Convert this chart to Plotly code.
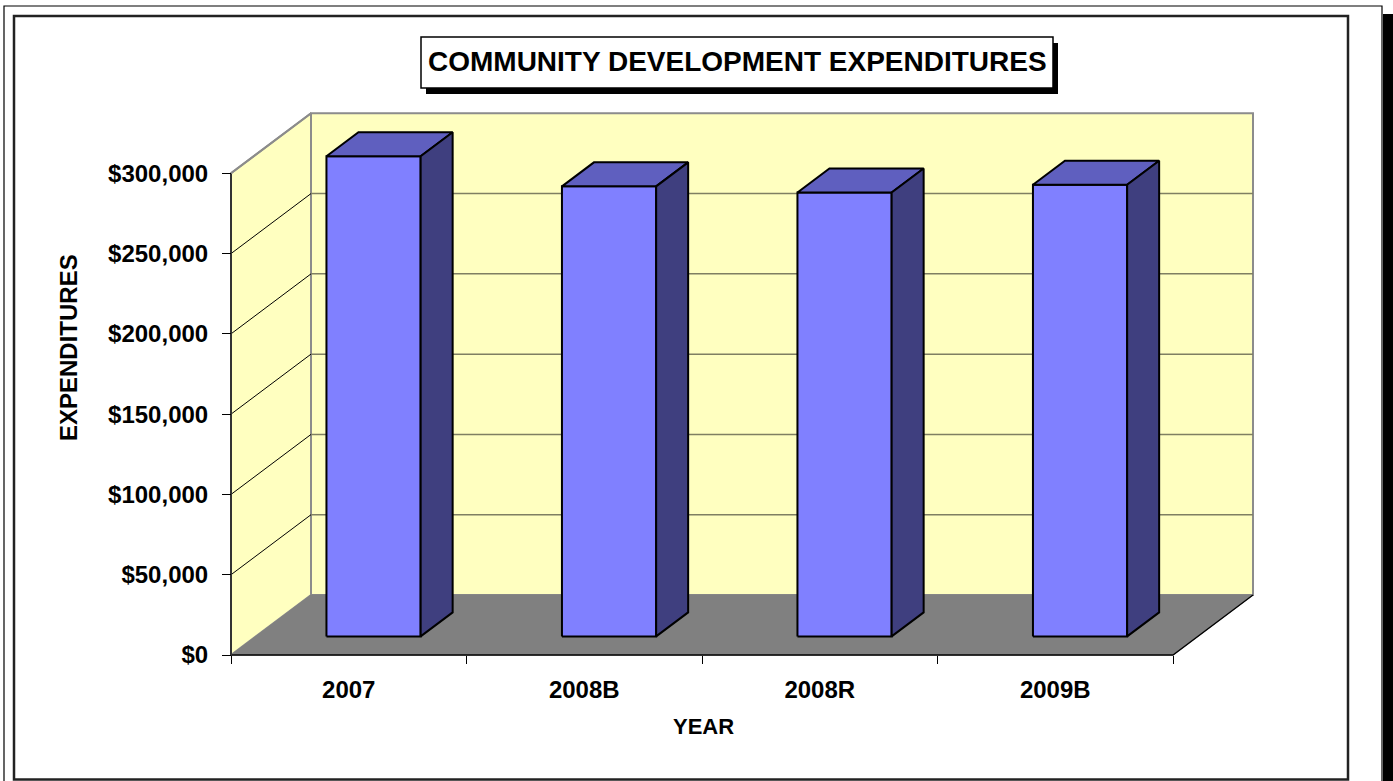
import plotly.graph_objects as go

# ---------------- data ----------------
categories = ["2007", "2008B", "2008R", "2009B"]
expenditures = [299000, 280300, 276500, 281300]
y_tick_values = [0, 50000, 100000, 150000, 200000, 250000, 300000]
y_tick_labels = ["$0", "$50,000", "$100,000", "$150,000", "$200,000", "$250,000", "$300,000"]
title_text = "COMMUNITY DEVELOPMENT EXPENDITURES"
x_title = "YEAR"
y_title = "EXPENDITURES"

# ---------------- geometry / styling ----------------
W, H = 1393, 781
PX_PER_CAT = 235.5
PX_PER_VAL = 481.7 / 300000
X0PX, Y0PX = 231, 655          # pixel of (x=0, y=0) on the front plane
L, R, T, B = 222, 1262, 106, 664   # plot area in pixels
DEPTH_PX_X, DEPTH_PX_Y = 80, 60
DX = DEPTH_PX_X / PX_PER_CAT
DY = DEPTH_PX_Y / PX_PER_VAL
YMAX = y_tick_values[-1]
NCAT = len(categories)
D0, D1 = 0.31, 0.71            # bar depth fraction (front, back)
BW = 0.40                      # bar width in category units

xrange = [(L - X0PX) / PX_PER_CAT, (R - X0PX) / PX_PER_CAT]
yrange = [(Y0PX - B) / PX_PER_VAL, (Y0PX - T) / PX_PER_VAL]


def pxx(px):
    return (px - L) / (R - L)


def pxy(py):
    return (B - py) / (B - T)


WALL = "#FFFFC0"
FLOOR = "#808080"
EDGE = "#8C8C8C"
GRID = "#7F7F62"
FRONT = "#8080FF"
TOP = "#5F5FBF"
SIDE = "#3F3F7F"
FONT = "Liberation Sans, Arial, sans-serif"

fig = go.Figure()


def poly(xs, ys, fill, line_color, line_width):
    fig.add_trace(go.Scatter(
        x=xs + [xs[0]], y=ys + [ys[0]], mode="lines", fill="toself",
        fillcolor=fill, line=dict(color=line_color, width=line_width),
        hoverinfo="skip", showlegend=False))


def seg(xs, ys, color, width):
    fig.add_trace(go.Scatter(
        x=xs, y=ys, mode="lines", line=dict(color=color, width=width),
        hoverinfo="skip", showlegend=False))


# back wall
poly([DX, NCAT + DX, NCAT + DX, DX], [DY, DY, YMAX + DY, YMAX + DY], WALL, EDGE, 2)
# left side wall
poly([0, DX, DX, 0], [0, DY, YMAX + DY, YMAX], WALL, EDGE, 2)
# floor
poly([0, NCAT, NCAT + DX, DX], [0, 0, DY, DY], FLOOR, FLOOR, 1)

# gridlines on back wall and side wall
for v in y_tick_values[1:-1]:
    seg([DX, NCAT + DX], [v + DY, v + DY], GRID, 1.5)
    seg([0, DX], [v, v + DY], "black", 1)

# floor edges and front axis line
seg([0, NCAT, NCAT + DX], [0, 0, DY], "black", 1.3)
seg([0, 0], [0, YMAX], "#333333", 2)
seg([0, DX], [YMAX, YMAX + DY], EDGE, 2)

# bars: front, top and side faces
centers = [i + 0.5 + D0 * DX for i in range(NCAT)]
ddx = (D1 - D0) * DX
ddy = (D1 - D0) * DY
for c, v in zip(centers, expenditures):
    xl, xr = c - BW / 2, c + BW / 2
    yb, yt = D0 * DY, v + D0 * DY
    poly([xl, xr, xr, xl], [yb, yb, yt, yt], FRONT, "black", 2)
    poly([xl, xr, xr + ddx, xl + ddx], [yt, yt, yt + ddy, yt + ddy], TOP, "black", 2)
    poly([xr, xr + ddx, xr + ddx, xr], [yb, yb + ddy, yt + ddy, yt], SIDE, "black", 2)

# ---------------- frames / title box ----------------
shapes = [
    dict(type="rect", xref="paper", yref="paper", x0=pxx(1383), x1=pxx(1393), y0=pxy(14), y1=pxy(790),
         fillcolor="black", line=dict(width=0), layer="below"),
    dict(type="rect", xref="paper", yref="paper", x0=pxx(4), x1=pxx(1382), y0=pxy(6), y1=pxy(795),
         fillcolor="rgba(0,0,0,0)", line=dict(color="black", width=1.2), layer="below"),
    dict(type="rect", xref="paper", yref="paper", x0=pxx(14), x1=pxx(1348), y0=pxy(16), y1=pxy(779.5),
         fillcolor="rgba(0,0,0,0)", line=dict(color="#222222", width=2.5), layer="below"),
    dict(type="rect", xref="paper", yref="paper", x0=pxx(426), x1=pxx(1058), y0=pxy(43), y1=pxy(94),
         fillcolor="black", line=dict(width=0)),
    dict(type="rect", xref="paper", yref="paper", x0=pxx(421), x1=pxx(1053), y0=pxy(37), y1=pxy(88),
         fillcolor="white", line=dict(color="black", width=1.5)),
]

annotations = [
    dict(text=title_text, xref="paper", yref="paper", x=pxx(737), y=pxy(62), showarrow=False,
         xanchor="center", yanchor="middle", font=dict(family=FONT, size=28, color="black", weight="bold")),
    dict(text=x_title, xref="paper", yref="paper", x=pxx(703), y=pxy(726), showarrow=False,
         xanchor="center", yanchor="middle", font=dict(family=FONT, size=22, color="black", weight="bold")),
    dict(text=y_title, xref="paper", yref="paper", x=pxx(68), y=pxy(348), showarrow=False, textangle=-90,
         xanchor="center", yanchor="middle", font=dict(family=FONT, size=24, color="black", weight="bold")),
]

fig.update_layout(
    width=W, height=H,
    margin=dict(l=L, r=W - R, t=T, b=H - B, pad=0),
    paper_bgcolor="white", plot_bgcolor="rgba(0,0,0,0)",
    shapes=shapes, annotations=annotations,
    xaxis=dict(range=xrange, showgrid=False, zeroline=False, showline=False,
               anchor="free", position=pxy(Y0PX),
               tickmode="array", tickvals=[i + 0.5 for i in range(NCAT)], ticktext=categories,
               ticks="", ticklabelstandoff=18,
               tickfont=dict(family=FONT, size=24, color="black", weight="bold"),
               minor=dict(tickmode="array", tickvals=list(range(NCAT + 1)), ticks="outside",
                          ticklen=8, tickwidth=1, tickcolor="black", showgrid=False)),
    yaxis=dict(range=yrange, showgrid=False, zeroline=False, showline=False,
               anchor="free", position=pxx(X0PX),
               tickmode="array", tickvals=y_tick_values, ticktext=y_tick_labels,
               ticks="outside", ticklen=9, tickwidth=1.2, tickcolor="black", ticklabelstandoff=9,
               tickfont=dict(family=FONT, size=24, color="black", weight="bold")),
)

fig.write_html("out.html")
